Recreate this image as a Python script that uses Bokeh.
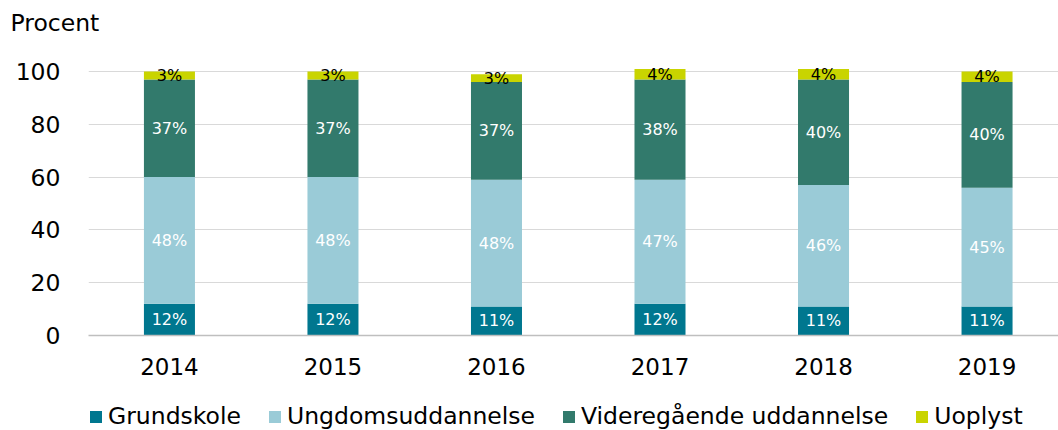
from bokeh.plotting import figure
from bokeh.models import (ColumnDataSource, Range1d, FixedTicker, Legend, LegendItem)
from bokeh.layouts import column
from bokeh.core.properties import value
from bokeh.embed import file_html
from bokeh.resources import INLINE

years = ["2014", "2015", "2016", "2017", "2018", "2019"]
series = ["Grundskole", "Ungdomsuddannelse", "Videregående uddannelse", "Uoplyst"]
grundskole = [12, 12, 11, 12, 11, 11]
ungdom = [48, 48, 48, 47, 46, 45]
videre = [37, 37, 37, 38, 40, 40]
uoplyst = [3, 3, 3, 4, 4, 4]
colors = ["#00778F", "#9ACBD7", "#327A6C", "#C9D400"]
label_colors = ["white", "white", "white", "black"]
y_ticks = [0, 20, 40, 60, 80, 100]

FONT = "DejaVu Sans"
xs = list(range(len(years)))
data = {"x": xs, "Grundskole": grundskole, "Ungdomsuddannelse": ungdom,
        "Videregående uddannelse": videre, "Uoplyst": uoplyst}
src = ColumnDataSource(data)

p = figure(width=1058, height=384, output_backend="svg", toolbar_location=None,
           title="Procent",
           x_range=Range1d(-0.495, 5.437), y_range=Range1d(0, 109.1),
           min_border_left=88, min_border_right=0, min_border_top=47, min_border_bottom=49)
p.outline_line_color = None
p.background_fill_color = "white"
p.border_fill_color = "white"
p.title.align = "left"
p.title.vertical_align = "top"
p.title.offset = -78
p.title.standoff = 17
p.title.text_font = FONT
p.title.text_font_size = "23.5px"
p.title.text_font_style = "normal"
p.title.text_color = "black"

renderers = p.vbar_stack(series, x="x", width=0.312, color=colors, source=src, line_color=None)

# segment labels
vals = [grundskole, ungdom, videre, uoplyst]
base = [0] * len(years)
for k, v in enumerate(vals):
    mids = [b + vi / 2 for b, vi in zip(base, v)]
    lsrc = ColumnDataSource({"x": xs, "y": mids, "t": [f"{vi}%" for vi in v]})
    p.text(x="x", y="y", text="t", source=lsrc, text_align="center", text_baseline="middle",
           text_font=value(FONT), text_font_size="16px", text_color=label_colors[k])
    base = [b + vi for b, vi in zip(base, v)]

# axes
p.xaxis.ticker = FixedTicker(ticks=xs)
p.xaxis.major_label_overrides = {i: y for i, y in enumerate(years)}
p.xaxis.major_tick_line_color = None
p.xaxis.minor_tick_line_color = None
p.xaxis.axis_line_color = "#BFBFBF"
p.xaxis.axis_line_width = 1.5
p.xaxis.major_label_text_font = FONT
p.xaxis.major_label_text_font_size = "23px"
p.xaxis.major_label_text_color = "black"
p.xaxis.major_label_standoff = 16

p.yaxis.ticker = FixedTicker(ticks=y_ticks)
p.yaxis.major_tick_line_color = None
p.yaxis.minor_tick_line_color = None
p.yaxis.axis_line_color = None
p.yaxis.major_label_text_font = FONT
p.yaxis.major_label_text_font_size = "23.5px"
p.yaxis.major_label_text_color = "black"
p.yaxis.major_label_standoff = 22

p.xgrid.grid_line_color = None
p.ygrid.grid_line_color = "#D9D9D9"
p.ygrid.grid_line_width = 1

# legend in a strip below (its bar renderers are hidden; only the legend shows)
p2 = figure(width=1058, height=46, output_backend="svg", toolbar_location=None,
            x_range=Range1d(-0.495, 5.437), y_range=Range1d(0, 1), x_axis_type=None, y_axis_type=None,
            min_border=0)
p2.outline_line_color = None
p2.xgrid.grid_line_color = None
p2.ygrid.grid_line_color = None
legend_r = p2.vbar_stack(series, x="x", width=0.312, color=colors, source=src, line_color=None)
for r in legend_r:
    r.visible = False

legend = Legend(items=[LegendItem(label=s, renderers=[r]) for s, r in zip(series, legend_r)],
                orientation="horizontal", location=(0, 0),
                label_text_font=FONT, label_text_font_size="23.5px", label_text_color="black",
                glyph_width=15, glyph_height=15, label_standoff=5, spacing=26,
                border_line_color=None, background_fill_alpha=0, padding=0, margin=0,
                inactive_fill_alpha=0)
p2.add_layout(legend)

open("out.html", "w").write(file_html(column(p, p2), INLINE))
